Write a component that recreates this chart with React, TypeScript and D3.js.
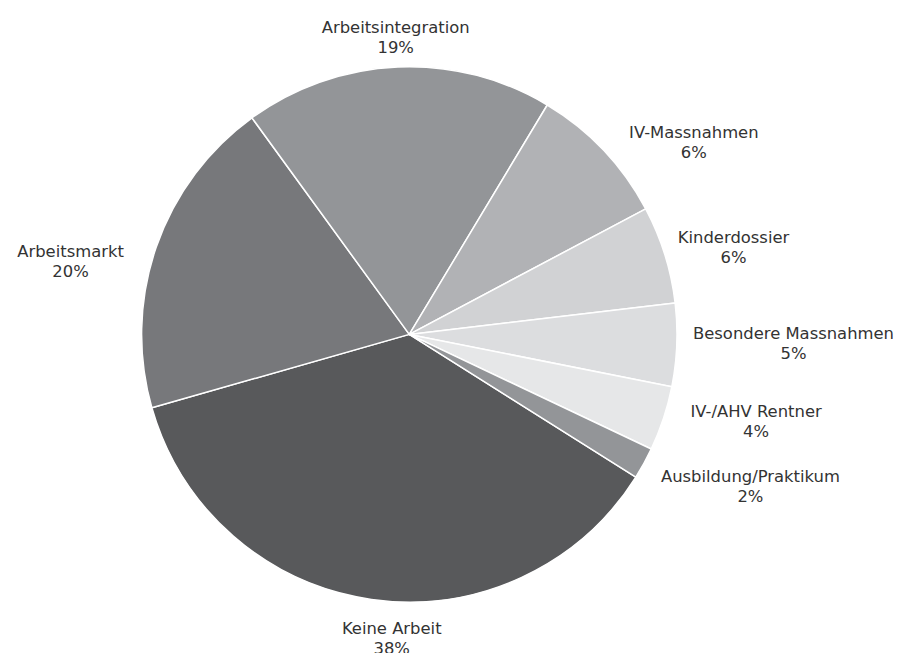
import React, { useEffect, useRef } from "react";
import * as d3 from "d3";

const categories = [
  "Keine Arbeit",
  "Arbeitsmarkt",
  "Arbeitsintegration",
  "IV-Massnahmen",
  "Kinderdossier",
  "Besondere Massnahmen",
  "IV-/AHV Rentner",
  "Ausbildung/Praktikum",
];
const values = [36.6, 19.4, 18.6, 8.6, 5.9, 5.0, 3.9, 1.9];
const pctLabels = ["38%", "20%", "19%", "6%", "6%", "5%", "4%", "2%"];
const colors = ["#58595b", "#77787b", "#939598", "#b1b2b5", "#d1d2d4", "#dcdddf", "#e6e7e8", "#939598"];

// label layout nudges (px) relative to the radial placement
const labelNudge: [number, number][] = [
  [30, 1],
  [-18, 26],
  [2, 8],
  [30, 18],
  [-2, 4],
  [-2, -4],
  [13, -10],
  [12, 4],
];

const W = 897;
const H = 653;

export default function App() {
  const ref = useRef<SVGSVGElement>(null);

  useEffect(() => {
    const svg = d3.select(ref.current);
    svg.selectAll("*").remove();
    const cx = 409.3;
    const cy = 334.4;
    const r = 267.7;
    const start = (122.2 * Math.PI) / 180;

    const pie = d3
      .pie<number>()
      .sort(null)
      .value((d) => d)
      .startAngle(start)
      .endAngle(start + 2 * Math.PI);
    const arcs = pie(values);
    const arc = d3.arc<d3.PieArcDatum<number>>().innerRadius(0).outerRadius(r);

    const g = svg.append("g").attr("transform", `translate(${cx},${cy})`);
    g.selectAll("path")
      .data(arcs)
      .join("path")
      .attr("d", arc)
      .attr("fill", (_, i) => colors[i])
      .attr("stroke", "#ffffff")
      .attr("stroke-width", 1.5)
      .attr("stroke-linejoin", "round");

    const Rl = 286;
    const lineGap = 20;
    arcs.forEach((a, i) => {
      const mid = (a.startAngle + a.endAngle) / 2;
      const t = g
        .append("text")
        .attr("font-family", "'DejaVu Sans', Verdana, sans-serif")
        .attr("font-size", 16.4)
        .attr("fill", "#333333")
        .attr("text-anchor", "middle");
      const l1 = t.append("tspan").attr("x", 0).attr("dy", 0).text(categories[i]);
      const l2 = t.append("tspan").attr("x", 0).attr("dy", lineGap).text(pctLabels[i]);
      const w = Math.max(
        (l1.node() as SVGTextContentElement).getComputedTextLength(),
        (l2.node() as SVGTextContentElement).getComputedTextLength()
      );
      const h = 40;
      const px = Math.sin(mid) * Rl + (Math.sin(mid) * w) / 2 + labelNudge[i][0];
      const py = -Math.cos(mid) * Rl - (Math.cos(mid) * h) / 2 + labelNudge[i][1];
      const baseline1 = py - lineGap / 2 + 6;
      t.attr("transform", `translate(${px},${baseline1})`);
    });
  }, []);

  return <svg ref={ref} width={W} height={H} style={{ position: "absolute", left: 0, top: 0 }} />;
}
